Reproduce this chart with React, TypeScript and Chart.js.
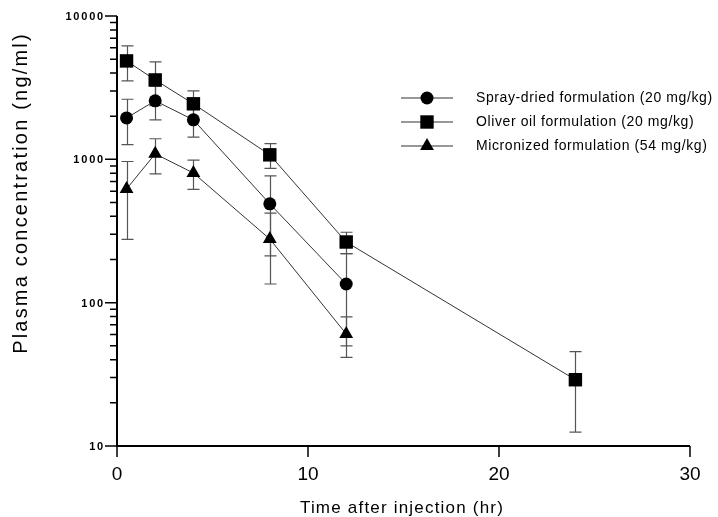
import React, { useEffect, useRef } from 'react';
import { Chart, registerables } from 'chart.js';

Chart.register(...registerables);

// ---- data ----
const sprayTimes = [0.5, 2, 4, 8, 12];
const sprayMean = [1945, 2560, 1885, 489, 135];
const spraySD = [680, 675, 455, 277, 85];

const oilTimes = [0.5, 2, 4, 8, 12, 24];
const oilMean = [4860, 3580, 2440, 1075, 265, 29];
const oilSD = [1330, 1210, 560, 210, 45, 16.5];

const microTimes = [0.5, 2, 4, 8, 12];
const microMean = [621, 1092, 803, 278, 60.5];
const microSD = [345, 300, 185, 143, 19];

const seriesLabels = [
  'Spray-dried formulation (20 mg/kg)',
  'Oliver oil formulation (20 mg/kg)',
  'Micronized formulation (54 mg/kg)',
];
const seriesStyles = ['circle', 'rect', 'triangle'];

const xTickValues = [0, 10, 20, 30];
const xTickLabels = ['0', '10', '20', '30'];
const yMajorValues = [10, 100, 1000, 10000];
const yTickLabels = ['10', '100', '1000', '10000'];
const yMinorMultipliers = [2, 3, 4, 5, 6, 7, 8, 9];

const xTitle = 'Time after injection (hr)';
const yTitle = 'Plasma concentration (ng/ml)';

const FONT = '"Liberation Sans", Arial, Helvetica, sans-serif';

function toPoints(times: number[], mean: number[], sd: number[]) {
  return times.map((t, i) => ({ x: t, y: mean[i], sd: sd[i] }));
}

function drawMarker(ctx: CanvasRenderingContext2D, style: string, x: number, y: number) {
  ctx.save();
  ctx.fillStyle = '#000';
  ctx.beginPath();
  if (style === 'circle') {
    ctx.arc(x, y, 6.5, 0, Math.PI * 2);
  } else if (style === 'rect') {
    ctx.rect(x - 6.7, y - 6.7, 13.4, 13.4);
  } else {
    const r = 8;
    ctx.moveTo(x, y - r);
    ctx.lineTo(x + r * 0.866, y + r / 2);
    ctx.lineTo(x - r * 0.866, y + r / 2);
    ctx.closePath();
  }
  ctx.fill();
  ctx.restore();
}

const decorPlugin = {
  id: 'pkDecor',
  beforeDatasetsDraw(chart: any) {
    const ctx: CanvasRenderingContext2D = chart.ctx;
    const xs = chart.scales.x;
    const ys = chart.scales.y;
    ctx.save();
    ctx.strokeStyle = '#555';
    ctx.lineWidth = 1.2;
    chart.data.datasets.forEach((ds: any) => {
      ds.data.forEach((p: any) => {
        const px = Math.round(xs.getPixelForValue(p.x)) + 0.5;
        const yTop = ys.getPixelForValue(p.y + p.sd);
        const yBot = ys.getPixelForValue(Math.max(p.y - p.sd, 10.5));
        ctx.beginPath();
        ctx.moveTo(px, yTop);
        ctx.lineTo(px, yBot);
        ctx.moveTo(px - 6, yTop);
        ctx.lineTo(px + 6, yTop);
        ctx.moveTo(px - 6, yBot);
        ctx.lineTo(px + 6, yBot);
        ctx.stroke();
      });
    });
    ctx.restore();
  },
  afterDraw(chart: any) {
    const ctx: any = chart.ctx;
    const xs = chart.scales.x;
    const ys = chart.scales.y;
    const area = chart.chartArea;
    ctx.save();
    // axes
    ctx.strokeStyle = '#000';
    ctx.lineWidth = 2;
    ctx.beginPath();
    ctx.moveTo(area.left, area.top);
    ctx.lineTo(area.left, area.bottom);
    ctx.lineTo(area.right, area.bottom);
    ctx.stroke();

    // y ticks
    ctx.lineWidth = 1.5;
    ctx.beginPath();
    yMajorValues.forEach((v) => {
      const py = ys.getPixelForValue(v);
      ctx.moveTo(area.left - 12, py);
      ctx.lineTo(area.left, py);
    });
    for (let d = 0; d < yMajorValues.length - 1; d++) {
      yMinorMultipliers.forEach((m) => {
        const py = ys.getPixelForValue(yMajorValues[d] * m);
        ctx.moveTo(area.left - 7, py);
        ctx.lineTo(area.left, py);
      });
    }
    // x ticks
    xTickValues.forEach((v) => {
      const px = xs.getPixelForValue(v);
      ctx.moveTo(px, area.bottom);
      ctx.lineTo(px, area.bottom + 11);
    });
    ctx.stroke();

    // y tick labels
    ctx.fillStyle = '#000';
    ctx.font = 'bold 11px ' + FONT;
    ctx.letterSpacing = '1.8px';
    ctx.textAlign = 'right';
    ctx.textBaseline = 'middle';
    yMajorValues.forEach((v, i) => {
      ctx.fillText(yTickLabels[i], area.left - 12, ys.getPixelForValue(v) + 1);
    });

    // x tick labels
    ctx.letterSpacing = '0px';
    ctx.font = '19px ' + FONT;
    ctx.textAlign = 'center';
    xTickValues.forEach((v, i) => {
      ctx.fillText(xTickLabels[i], xs.getPixelForValue(v), area.bottom + 29);
    });

    // x title
    ctx.font = '17px ' + FONT;
    ctx.letterSpacing = '1.2px';
    ctx.fillText(xTitle, 402, 508);

    // y title
    ctx.save();
    ctx.translate(21, 193);
    ctx.rotate(-Math.PI / 2);
    ctx.font = '20px ' + FONT;
    ctx.letterSpacing = '2.2px';
    ctx.fillText(yTitle, 0, 0);
    ctx.restore();

    // legend
    ctx.letterSpacing = '0.6px';
    ctx.font = '14px ' + FONT;
    ctx.textAlign = 'left';
    const rows = [98, 122, 146];
    seriesLabels.forEach((label, i) => {
      const y = rows[i];
      ctx.strokeStyle = '#333';
      ctx.lineWidth = 1.2;
      ctx.beginPath();
      ctx.moveTo(401, y);
      ctx.lineTo(453, y);
      ctx.stroke();
      drawMarker(ctx, seriesStyles[i], 427, y);
      ctx.fillStyle = '#000';
      ctx.fillText(label, 476, y);
    });
    ctx.letterSpacing = '0px';
    ctx.restore();
  },
};

export default function App() {
  const canvasRef = useRef<HTMLCanvasElement | null>(null);

  useEffect(() => {
    document.body.style.margin = '0';
    const canvas = canvasRef.current;
    if (!canvas) return;
    const common = {
      borderColor: '#333',
      borderWidth: 1,
      pointBackgroundColor: '#000',
      pointBorderColor: '#000',
      pointBorderWidth: 0,
      showLine: true,
      tension: 0,
    };
    const chart = new Chart(canvas, {
      type: 'line',
      data: {
        datasets: [
          {
            ...common,
            label: seriesLabels[0],
            data: toPoints(sprayTimes, sprayMean, spraySD),
            pointStyle: 'circle',
            pointRadius: 6.5,
          },
          {
            ...common,
            label: seriesLabels[1],
            data: toPoints(oilTimes, oilMean, oilSD),
            pointStyle: 'rect',
            pointRadius: 9.5,
          },
          {
            ...common,
            label: seriesLabels[2],
            data: toPoints(microTimes, microMean, microSD),
            pointStyle: 'triangle',
            pointRadius: 8,
          },
        ] as any,
      },
      options: {
        animation: false,
        responsive: false,
        maintainAspectRatio: false,
        layout: { padding: { left: 0, right: 28, top: 16, bottom: 0 } },
        plugins: {
          legend: { display: false },
          tooltip: { enabled: false },
          title: { display: false },
        },
        scales: {
          x: {
            type: 'linear',
            min: 0,
            max: 30,
            grid: { display: false },
            border: { display: false },
            ticks: { display: false },
            afterFit: (scale: any) => {
              scale.height = 71;
            },
          },
          y: {
            type: 'logarithmic',
            min: 10,
            max: 10000,
            grid: { display: false },
            border: { display: false },
            ticks: { display: false },
            afterFit: (scale: any) => {
              scale.width = 117;
            },
          },
        },
      } as any,
      plugins: [decorPlugin],
    });
    return () => chart.destroy();
  }, []);

  return (
    <div style={{ width: 718, height: 517, background: '#fff' }}>
      <canvas ref={canvasRef} width={718} height={517} style={{ display: 'block' }} />
    </div>
  );
}
